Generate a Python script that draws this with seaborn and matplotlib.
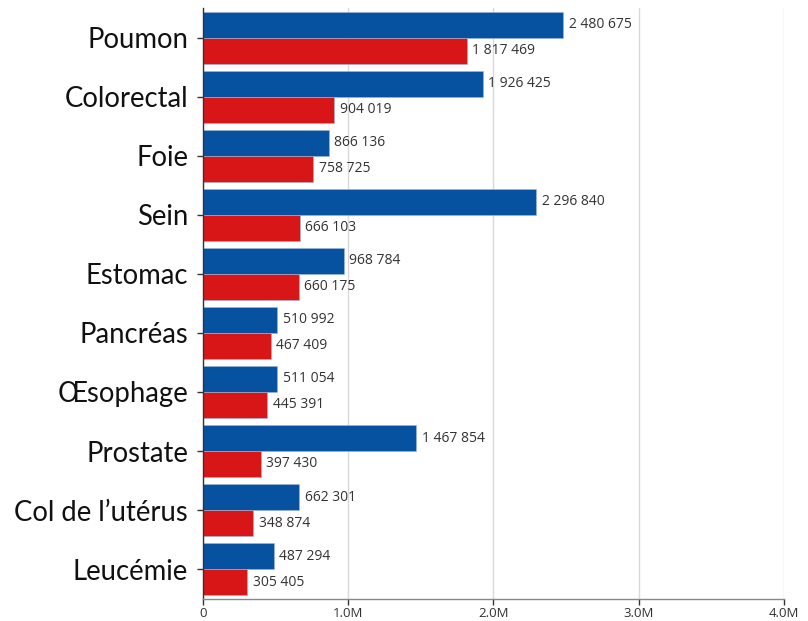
import matplotlib
matplotlib.use("Agg")
import matplotlib.pyplot as plt
import seaborn as sns
import pandas as pd

categories = ["Poumon", "Colorectal", "Foie", "Sein", "Estomac", "Pancréas",
              "Œsophage", "Prostate", "Col de l\u2019utérus", "Leucémie"]
incidence = [2480675, 1926425, 866136, 2296840, 968784, 510992,
             511054, 1467854, 662301, 487294]
mortalite = [1817469, 904019, 758725, 666103, 660175, 467409,
             445391, 397430, 348874, 305405]
series_names = ["Incidence", "Mortalité"]
tick_values = [0, 1e6, 2e6, 3e6, 4e6]
tick_labels = ["0", "1.0M", "2.0M", "3.0M", "4.0M"]

df = pd.DataFrame({
    "cancer": categories * 2,
    "valeur": incidence + mortalite,
    "serie": [series_names[0]] * len(categories) + [series_names[1]] * len(categories),
})

sns.set_style("white")
plt.rcParams["font.family"] = ["Open Sans", "DejaVu Sans"]

fig = plt.figure(figsize=(8.08, 6.21), dpi=100)
ax = fig.add_axes([0.251, 0.036, 0.719, 0.951])

palette = {"Incidence": "#0652A0", "Mortalité": "#D81618"}
sns.barplot(data=df, y="cancer", x="valeur", hue="serie", order=categories,
            hue_order=series_names, palette=palette, orient="h",
            width=0.88, ax=ax, legend=False, saturation=1,
            edgecolor="#9fb8d8", linewidth=0.4)

def fmt(v):
    return f"{int(round(v)):,}".replace(",", " ")

for cont in ax.containers:
    ax.bar_label(cont, labels=[fmt(b.get_width()) for b in cont], padding=4,
                 fontsize=10, color="#333333")

ax.set_xlim(0, 4e6)
ax.set_ylim(len(categories) - 0.5, -0.5)
ax.set_xticks(tick_values)
ax.set_xticklabels(tick_labels)
ax.xaxis.grid(True, color="#d9d9d9", linewidth=1)
ax.set_axisbelow(True)
ax.set_xlabel("")
ax.set_ylabel("")

for s in ["top", "right"]:
    ax.spines[s].set_visible(False)
ax.spines["left"].set_color("#333333")
ax.spines["left"].set_linewidth(1)
ax.spines["bottom"].set_color("#888888")
ax.spines["bottom"].set_linewidth(1)

ax.tick_params(axis="x", labelsize=9.5, colors="#333333", length=4, width=1,
               direction="out", bottom=True, pad=2)
ax.tick_params(axis="y", length=4, width=1, left=True, direction="out",
               colors="#333333", pad=6.5)
for lbl in ax.get_yticklabels():
    lbl.set_fontsize(19.8)
    lbl.set_family(["Lato", "DejaVu Sans"])
    lbl.set_color("#111111")

fig.savefig("out.png", dpi=100)
